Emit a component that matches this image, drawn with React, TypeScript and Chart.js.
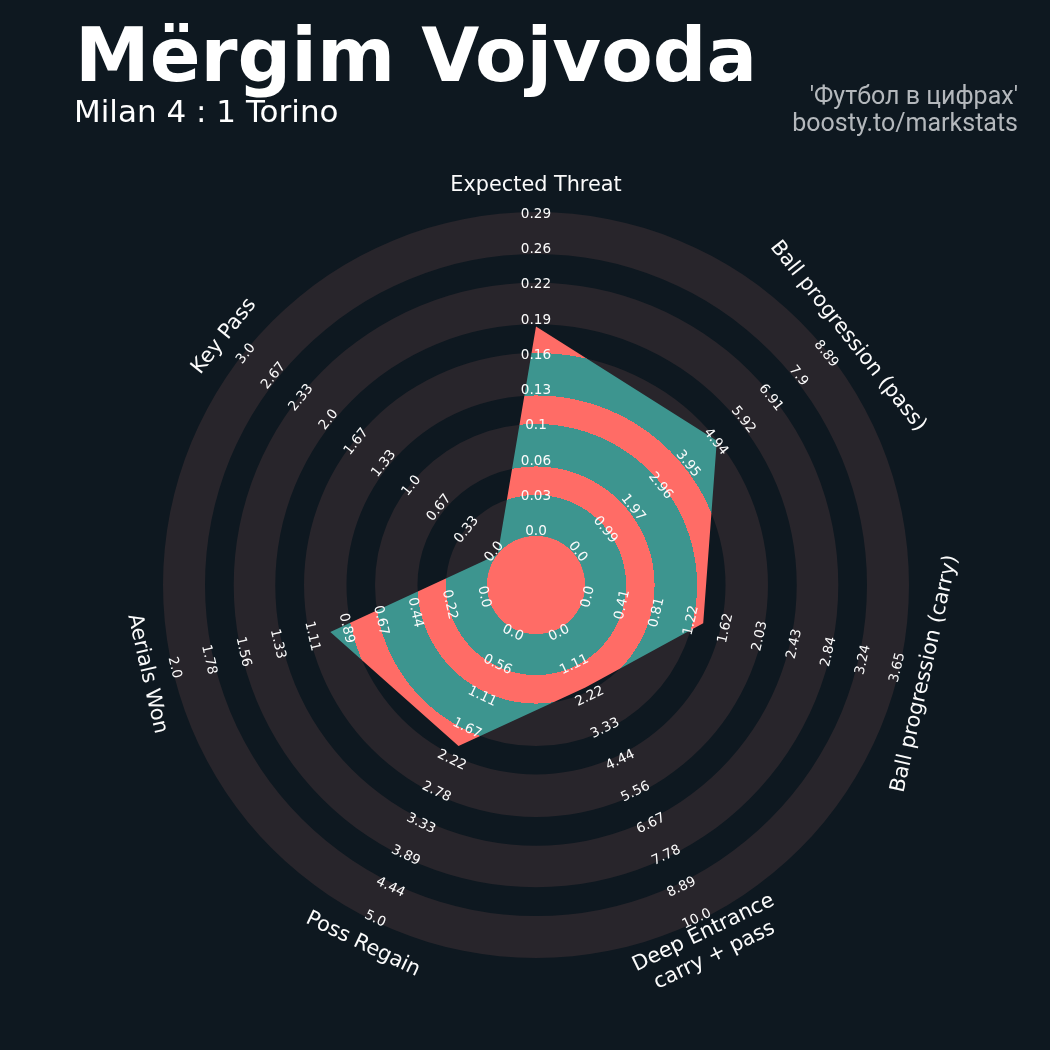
import { useEffect, useRef } from 'react';
import { Chart, registerables } from 'chart.js';

Chart.register(...registerables);

// ---------- data ----------
const CATEGORIES: (string | string[])[] = [
  'Expected Threat',
  'Ball progression (pass)',
  'Ball progression (carry)',
  ['Deep Entrance', 'carry + pass'],
  'Poss Regain',
  'Aerials Won',
  'Key Pass',
];
const RANGE_MIN = [0, 0, 0, 0, 0, 0, 0];
const RANGE_MAX = [0.2875, 8.8875, 3.65, 10, 5, 2, 3];
const PLAYER_VALUES = [0.186, 5, 1.38, 2, 2, 1, 0];

const TICKS_XT = ['0.0', '0.03', '0.06', '0.1', '0.13', '0.16', '0.19', '0.22', '0.26', '0.29'];
const TICKS_PROG_PASS = ['0.0', '0.99', '1.97', '2.96', '3.95', '4.94', '5.92', '6.91', '7.9', '8.89'];
const TICKS_PROG_CARRY = ['0.0', '0.41', '0.81', '1.22', '1.62', '2.03', '2.43', '2.84', '3.24', '3.65'];
const TICKS_DEEP = ['0.0', '1.11', '2.22', '3.33', '4.44', '5.56', '6.67', '7.78', '8.89', '10.0'];
const TICKS_REGAIN = ['0.0', '0.56', '1.11', '1.67', '2.22', '2.78', '3.33', '3.89', '4.44', '5.0'];
const TICKS_AERIALS = ['0.0', '0.22', '0.44', '0.67', '0.89', '1.11', '1.33', '1.56', '1.78', '2.0'];
const TICKS_KEYPASS = ['0.0', '0.33', '0.67', '1.0', '1.33', '1.67', '2.0', '2.33', '2.67', '3.0'];
const TICK_LABELS = [TICKS_XT, TICKS_PROG_PASS, TICKS_PROG_CARRY, TICKS_DEEP, TICKS_REGAIN, TICKS_AERIALS, TICKS_KEYPASS];

const TITLE = 'Mërgim Vojvoda';
const SUBTITLE = 'Milan 4 : 1 Torino';
const CREDIT_1 = "'Футбол в цифрах'";
const CREDIT_2 = 'boosty.to/markstats';

// ---------- style ----------
const BG = '#0e1820';
const RING_GREY = '#28252b';
const TEAL = '#3d958f';
const CORAL = '#ff6c66';
const TEXT = '#fbfbfb';
const CREDIT_COLOR = '#b4b8bc';
const STEPS = 9;
const CENTER_U = 49 / 36; // center circle radius in scale units
// ring boundaries (scale units) — grey bands between pairs
const BAND_EDGES = [0, 1.139, 1.931, 3.111, 3.903, 5.083, 5.881, 7.036, 7.833, 9.0];
const LABEL_U0 = 0.12;
const LABEL_STEP = 0.98;
const CAT_U = 9.72;
const FONT = '"DejaVu Sans", sans-serif';

const normalized = PLAYER_VALUES.map((v, i) => ((v - RANGE_MIN[i]) / (RANGE_MAX[i] - RANGE_MIN[i])) * STEPS);

function rotationFor(i: number, n: number) {
  const deg = (i * 360) / n;
  let rot = deg;
  if (deg > 90 && deg < 270) rot = deg - 180;
  return (rot * Math.PI) / 180;
}

const decorPlugin = {
  id: 'radarDecor',
  beforeDraw(chart: any) {
    const { ctx, width, height } = chart;
    const s = chart.scales.r;
    ctx.save();
    ctx.fillStyle = BG;
    ctx.fillRect(0, 0, width, height);
    ctx.fillStyle = RING_GREY;
    for (let i = 0; i + 1 < BAND_EDGES.length; i += 2) {
      const r0 = s.getDistanceFromCenterForValue(BAND_EDGES[i]);
      const r1 = s.getDistanceFromCenterForValue(BAND_EDGES[i + 1]);
      ctx.beginPath();
      ctx.arc(s.xCenter, s.yCenter, r1, 0, Math.PI * 2);
      ctx.arc(s.xCenter, s.yCenter, r0, 0, Math.PI * 2, true);
      ctx.fill();
    }
    ctx.restore();
  },
  afterDatasetsDraw(chart: any) {
    const { ctx } = chart;
    const s = chart.scales.r;
    const n = CATEGORIES.length;
    ctx.save();
    // center circle
    ctx.fillStyle = CORAL;
    ctx.beginPath();
    ctx.arc(s.xCenter, s.yCenter, s.getDistanceFromCenterForValue(0), 0, Math.PI * 2);
    ctx.fill();

    // tick labels
    ctx.fillStyle = TEXT;
    ctx.font = `13.6px ${FONT}`;
    ctx.textAlign = 'center';
    ctx.textBaseline = 'middle';
    for (let i = 0; i < n; i++) {
      const rot = rotationFor(i, n);
      TICK_LABELS[i].forEach((lab, k) => {
        const p = s.getPointPositionForValue(i, LABEL_U0 + k * LABEL_STEP);
        ctx.save();
        ctx.translate(p.x, p.y);
        ctx.rotate(rot);
        ctx.fillText(lab, 0, 0);
        ctx.restore();
      });
    }

    // category labels
    ctx.font = `20.8px ${FONT}`;
    for (let i = 0; i < n; i++) {
      const rot = rotationFor(i, n);
      const p = s.getPointPositionForValue(i, CAT_U);
      const lines = Array.isArray(CATEGORIES[i]) ? (CATEGORIES[i] as string[]) : [CATEGORIES[i] as string];
      const lh = 25;
      ctx.save();
      ctx.translate(p.x, p.y);
      ctx.rotate(rot);
      lines.forEach((ln, j) => {
        ctx.fillText(ln, 0, (j - (lines.length - 1) / 2) * lh);
      });
      ctx.restore();
    }
    ctx.restore();
  },
  afterDraw(chart: any) {
    const { ctx } = chart;
    ctx.save();
    ctx.textBaseline = 'alphabetic';
    ctx.textAlign = 'left';
    ctx.fillStyle = '#ffffff';
    ctx.font = `bold 75px ${FONT}`;
    ctx.fillText(TITLE, 75, 81);
    ctx.font = `31px ${FONT}`;
    ctx.fillText(SUBTITLE, 74, 122);
    ctx.textAlign = 'right';
    ctx.fillStyle = CREDIT_COLOR;
    ctx.font = `25px Roboto, sans-serif`;
    ctx.fillText(CREDIT_1, 1018, 104);
    ctx.fillText(CREDIT_2, 1018, 131);
    ctx.restore();
  },
};

function bandGradient(c: any) {
  const chart = c.chart;
  const s = chart && chart.scales && chart.scales.r;
  if (!s || !s.drawingArea) return CORAL;
  const R = s.getDistanceFromCenterForValue(STEPS);
  const g = chart.ctx.createRadialGradient(s.xCenter, s.yCenter, 0, s.xCenter, s.yCenter, R);
  g.addColorStop(0, CORAL);
  let cur = CORAL;
  for (const e of BAND_EDGES.slice(0, -1)) {
    const f = Math.min(1, Math.max(0, s.getDistanceFromCenterForValue(e) / R));
    const next = cur === CORAL ? TEAL : CORAL;
    g.addColorStop(f, cur);
    g.addColorStop(f, next);
    cur = next;
  }
  g.addColorStop(1, cur);
  return g;
}

export default function App() {
  const ref = useRef<HTMLCanvasElement | null>(null);
  useEffect(() => {
    if (!ref.current) return;
    const chart = new Chart(ref.current, {
      type: 'radar',
      data: {
        labels: CATEGORIES as any,
        datasets: [
          {
            data: normalized,
            backgroundColor: bandGradient as any,
            borderColor: 'rgba(0,0,0,0)',
            borderWidth: 0,
            pointRadius: 0,
            fill: 'start',
          },
        ],
      },
      options: {
        animation: false,
        responsive: false,
        maintainAspectRatio: false,
        layout: { padding: { left: 163, right: 141, top: 212, bottom: 92 } },
        plugins: { legend: { display: false }, tooltip: { enabled: false }, title: { display: false } },
        scales: {
          r: {
            min: -CENTER_U,
            max: STEPS,
            startAngle: 0,
            ticks: { display: false },
            grid: { display: false },
            angleLines: { display: false },
            pointLabels: { display: false },
          },
        },
      },
      plugins: [decorPlugin],
    });
    return () => chart.destroy();
  }, []);
  return (
    <div style={{ position: 'fixed', left: 0, top: 0, width: 1050, height: 1050, background: BG }}>
      <canvas ref={ref} width={1050} height={1050} style={{ display: 'block' }} />
    </div>
  );
}
